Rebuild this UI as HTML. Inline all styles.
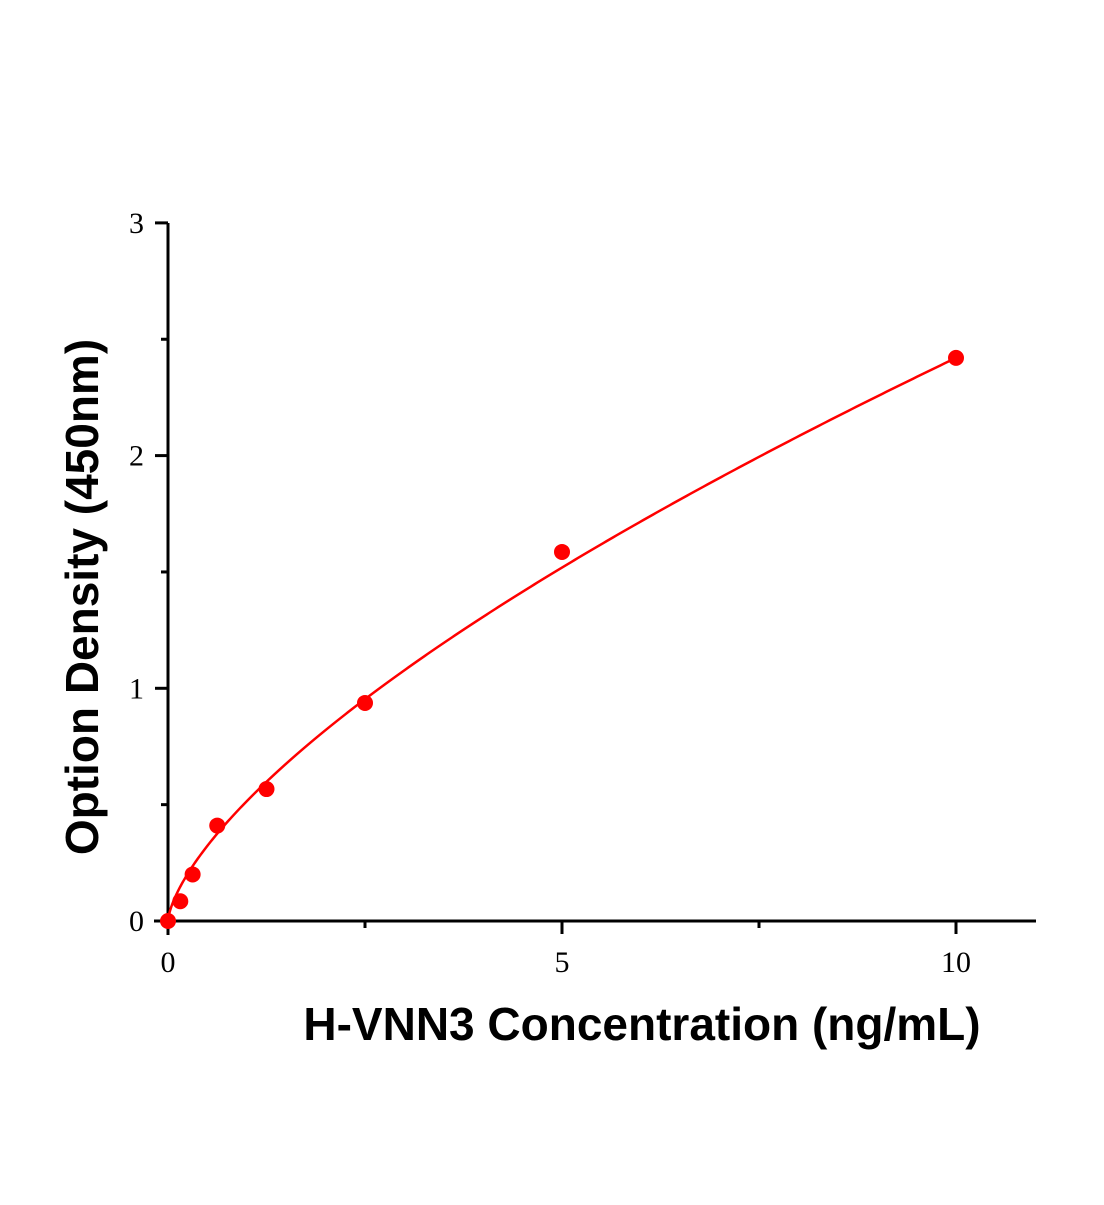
<!DOCTYPE html>
<html><head><meta charset="utf-8"><style>html,body{margin:0;padding:0;background:#fff}</style></head>
<body>
<svg id="chart" width="1104" height="1200" xmlns="http://www.w3.org/2000/svg" font-family="Liberation Serif, serif">
<g id="axes"></g>
<g id="curve"></g>
<g id="pts"></g>
<text x="642" y="1040" text-anchor="middle" font-family="Liberation Sans, sans-serif" font-weight="bold" font-size="46">H-VNN3 Concentration (ng/mL)</text>
<text transform="translate(98,597) rotate(-90)" text-anchor="middle" font-family="Liberation Sans, sans-serif" font-weight="bold" font-size="46">Option Density (450nm)</text>
</svg>
<script>
const concentrations=[0,0.156,0.3125,0.625,1.25,2.5,5,10];
const odValues=[0.0,0.085,0.20,0.41,0.567,0.937,1.586,2.42];
const xTickLabels=[0,5,10];
const yTickLabels=[0,1,2,3];
const fitA=0.515, fitB=0.672;
const NS='http://www.w3.org/2000/svg';
const X=v=>168+v*78.8, Y=v=>921-v*232.7;
function mk(tag,attrs,parent){const e=document.createElementNS(NS,tag);for(const k in attrs)e.setAttribute(k,attrs[k]);parent.appendChild(e);return e;}
const ax=document.getElementById('axes');
const xl=mk('line',{x1:154,y1:921,x2:1036,y2:921,stroke:'#000','stroke-width':3},ax);


const yl=mk('line',{x1:168,y1:223,x2:168,y2:935,stroke:'#000','stroke-width':3},ax);


xTickLabels.forEach(v=>{
 const t=mk('line',{x1:X(v),y1:921,x2:X(v),y2:934,stroke:'#000','stroke-width':3},ax);
 
 
 const l=mk('text',{x:X(v),y:972,'text-anchor':'middle','font-size':30},ax);l.textContent=v;
 
 
});
[2.5,7.5].forEach(v=>{
 const t=mk('line',{x1:X(v),y1:921,x2:X(v),y2:928,stroke:'#000','stroke-width':3},ax);
 
 
});
yTickLabels.forEach(v=>{
 const t=mk('line',{x1:155,y1:Y(v),x2:168,y2:Y(v),stroke:'#000','stroke-width':3},ax);
 
 
 const l=mk('text',{x:144,y:Y(v)+10,'text-anchor':'end','font-size':30},ax);l.textContent=v;
 
 
});
[0.5,1.5,2.5].forEach(v=>{
 const t=mk('line',{x1:161,y1:Y(v),x2:168,y2:Y(v),stroke:'#000','stroke-width':3},ax);
 
 
});
let d='';
for(let i=0;i<=300;i++){const x=10*Math.pow(i/300,1.5);const y=fitA*Math.pow(x,fitB);d+=(i?'L':'M')+X(x).toFixed(2)+','+Y(y).toFixed(2);}
const c=mk('path',{d:d,fill:'none',stroke:'#f00','stroke-width':2.5},document.getElementById('curve'));


const pg=document.getElementById('pts');
concentrations.forEach((x,i)=>{
 const p=mk('circle',{cx:X(x),cy:Y(odValues[i]),r:8,fill:'#f00'},pg);
 
 
});
</script>
</body></html>
